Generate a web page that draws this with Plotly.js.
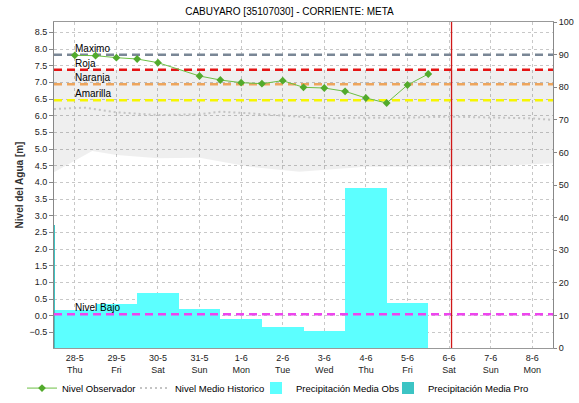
<!DOCTYPE html>
<html>
<head>
<meta charset="utf-8">
<script src="https://cdn.plot.ly/plotly-3.0.1.min.js"></script>
<style>html,body{margin:0;padding:0;background:#fff;}#chart{width:579px;height:403px;}</style>
</head>
<body>
<div id="chart"></div>
<script>
// ---- data ----
const dates = ['28-5','29-5','30-5','31-5','1-6','2-6','3-6','4-6','5-6','6-6','7-6','8-6'];
const weekdays = ['Thu','Fri','Sat','Sun','Mon','Tue','Wed','Thu','Fri','Sat','Sun','Mon'];

// Nivel Observador (every 12 h, day index)
const obsX = [0,0.5,1,1.5,2,3,3.5,4,4.5,5,5.5,6,6.5,7,7.5,8,8.5];
const obsLevel = [7.81,7.80,7.74,7.70,7.59,7.19,7.07,6.99,6.96,7.05,6.85,6.83,6.73,6.53,6.38,6.92,7.25];

// Nivel Medio Historico
const histX = [-0.5,0.25,1,2,3,3.5,4.2,5.4,6,7,8,9,10,11,11.5];
const histLevel = [6.20,6.24,6.10,6.02,6.04,6.12,6.07,5.97,5.92,5.94,5.94,5.97,5.94,5.92,5.87];

// historical range band (lower / upper edge)
const bandX = [-0.5,0.42,1,2,3,3.5,4.2,5.4,6,7,8,9,10.2,11.5];
const bandLow = [4.30,4.94,4.82,4.72,4.74,4.62,4.47,4.32,4.37,4.47,4.47,4.47,4.49,4.57];
const bandHigh = [7.38,7.38,7.38,7.38,7.38,7.38,7.38,7.38,7.38,7.38,7.38,7.38,7.38,7.38];

// Precipitación Media Obs (right axis, daily)
const precipObsX = [0,1,2,3,4,5,6,7,8];
const precipObs = [11.6,13.6,16.9,11.9,9.0,6.4,5.2,49.1,13.9];
// Precipitación Media Pro
const precipProX = [-0.49];
const precipPro = [37.7];

// threshold levels
const thresholdNames = ['Maximo','Roja','Naranja','Amarilla','Nivel Bajo'];
const thresholdValues = [7.83,7.38,6.94,6.46,0.04];
const thresholdColors = ['#7a8796','#e41414','#eea55c','#f6f600','#ee44ee'];

// current time marker (day index)
const nowX = 9.06;

const dayTicks = dates.map((d,i)=>i);
const dayLabels = dates.map((d,i)=>d+'<br>'+weekdays[i]);

const FONT = 'Liberation Sans, Arial, sans-serif';

const traces = [];
// band
traces.push({x:bandX, y:bandLow, yaxis:'y2', type:'scatter', mode:'lines', line:{width:0, color:'rgba(0,0,0,0)'}, showlegend:false, hoverinfo:'skip'});
traces.push({x:bandX, y:bandHigh, yaxis:'y2', type:'scatter', mode:'lines', fill:'tonexty', fillcolor:'rgba(0,0,0,0.062)', line:{width:0, color:'rgba(0,0,0,0)'}, showlegend:false, hoverinfo:'skip'});
// thresholds
thresholdNames.forEach((n,i)=>{
  traces.push({x:[-0.5,11.5], y:[thresholdValues[i],thresholdValues[i]], yaxis:'y2', type:'scatter', mode:'lines',
    line:{color:thresholdColors[i], width:2.5, dash:'8px,5px'}, showlegend:false, hoverinfo:'skip'});
});
// observed
traces.push({x:obsX, y:obsLevel, yaxis:'y2', type:'scatter', mode:'lines+markers', name:'Nivel Observador', legend:'legend',
  line:{color:'#6cbf44', width:1}, marker:{symbol:'diamond', size:6, color:'#52aa2c'}});
// historic mean
traces.push({x:histX, y:histLevel, yaxis:'y2', type:'scatter', mode:'lines', name:'Nivel Medio Historico', legend:'legend2',
  line:{color:'#c4c4c4', width:2, dash:'2px,3px'}});
// precipitation bars (main y, right side)
traces.push({x:precipObsX, y:precipObs, yaxis:'y', type:'bar', width:1, name:'Precipitación Media Obs', legend:'legend3',
  marker:{color:'#5cffff', line:{width:0}}});
traces.push({x:precipProX, y:precipPro, yaxis:'y', type:'bar', width:0.025, name:'Precipitación Media Pro', legend:'legend4',
  marker:{color:'#3cc4c4', line:{width:0}}});

const annotations = thresholdNames.map((n,i)=>({
  x:-0.05, y:thresholdValues[i], xref:'x', yref:'y2', text:n, showarrow:false,
  xanchor:'left', yanchor:'bottom', yshift:-1, font:{family:FONT, size:10, color:'#000'}
}));

function legendAt(textLeft){
  return {orientation:'h', xref:'container', yref:'container', x:(textLeft-40)/579, xanchor:'left', y:0.037, yanchor:'middle',
    font:{family:FONT, size:9.5, color:'#000'}, itemwidth:30, bgcolor:'rgba(0,0,0,0)', borderwidth:0};
}

const layout = {
  width:579, height:403,
  margin:{l:54, r:26, t:22, b:55, autoexpand:false},
  paper_bgcolor:'#fff', plot_bgcolor:'#fff',
  font:{family:FONT, size:9, color:'#222'},
  title:{text:'CABUYARO [35107030] - CORRIENTE: META', font:{family:FONT, size:10, color:'#000'}, x:0.5, xref:'container', y:0.972, yanchor:'middle'},
  barmode:'overlay', bargap:0,
  showlegend:true,
  legend:legendAt(62),
  legend2:legendAt(175),
  legend3:legendAt(296),
  legend4:legendAt(428),
  xaxis:{range:[-0.5,11.5], tickmode:'array', tickvals:dayTicks, ticktext:dayLabels, showgrid:true, gridcolor:'#c8c8c8', griddash:'dot', gridwidth:1,
    zeroline:false, showline:true, linecolor:'#999', mirror:true, ticks:'', ticklabelstandoff:1, tickfont:{family:FONT, size:9, color:'#222'}},
  yaxis:{range:[0,100], side:'right', dtick:10, tick0:0, showgrid:false, zeroline:false, showline:true, linecolor:'#888',
    ticks:'outside', ticklen:3, tickcolor:'#888', tickfont:{family:FONT, size:9, color:'#222'}},
  yaxis2:{range:[-0.97,8.81], overlaying:'y', side:'left', dtick:0.5, tick0:0, tickformat:'.1f', showgrid:true, gridcolor:'#c8c8c8', griddash:'dot',
    zeroline:false, showline:true, linecolor:'#888', ticks:'outside', ticklen:4, tickcolor:'#888', tickfont:{family:FONT, size:9, color:'#222'},
    title:{text:'Nivel del Agua [m]', font:{family:FONT, size:10, color:'#333', weight:'bold'}, standoff:3}},
  shapes:[{type:'line', xref:'x', yref:'paper', x0:nowX, x1:nowX, y0:0, y1:1, line:{color:'#d01818', width:1.3}, layer:'above'}],
  annotations:annotations
};

Plotly.newPlot('chart', traces, layout, {displayModeBar:false, staticPlot:true});
</script>
</body>
</html>
